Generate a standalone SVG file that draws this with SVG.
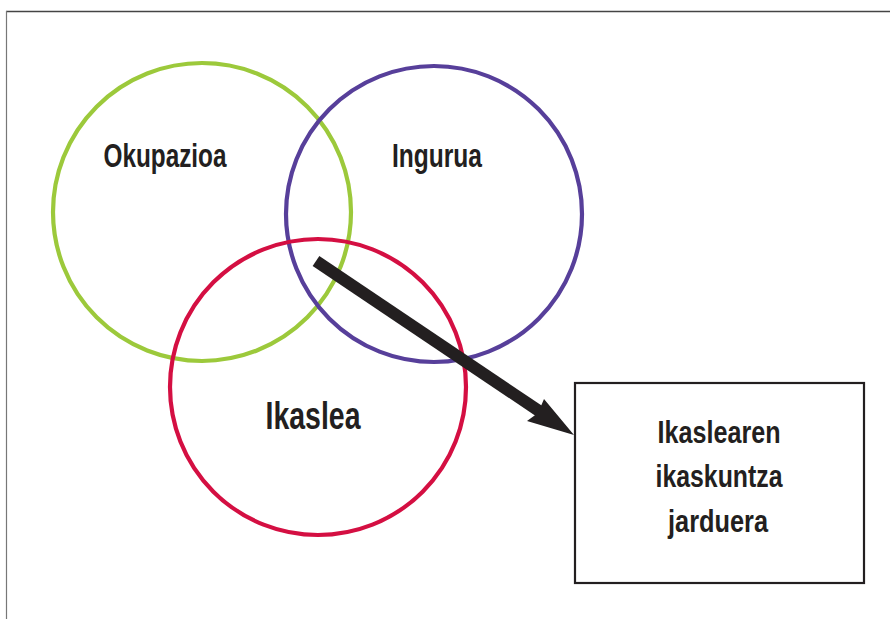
<svg xmlns="http://www.w3.org/2000/svg" width="890" height="619" viewBox="0 0 890 619">
<style>
.lbl{font-family:"Liberation Sans",Arial,sans-serif;font-weight:bold;fill:#231f20;text-anchor:middle}
.c{fill:none;stroke-width:4.2}
</style>
<rect width="890" height="619" fill="#fff"/>
<g id="frame" fill="none" stroke="#444">
<line x1="6" y1="11.5" x2="890" y2="11.5" stroke-width="1.5"/>
<line x1="6.5" y1="11" x2="6.5" y2="619" stroke-width="1.2" stroke="#777"/>
</g>
<g id="okupazioa">
<circle class="c" cx="202" cy="212" r="149" stroke="#9cc93b"/>
<text class="lbl" x="165" y="167" font-size="33" textLength="123" lengthAdjust="spacingAndGlyphs">Okupazioa</text>
</g>
<g id="ingurua">
<circle class="c" cx="434" cy="214" r="148" stroke="#573f9a"/>
<text class="lbl" x="437" y="167" font-size="33" textLength="90" lengthAdjust="spacingAndGlyphs">Ingurua</text>
</g>
<g id="ikaslea">
<circle class="c" cx="318" cy="387" r="148" stroke="#d40f42"/>
<text class="lbl" x="313" y="429" font-size="38" textLength="95" lengthAdjust="spacingAndGlyphs">Ikaslea</text>
</g>
<g id="jarduera">
<rect x="575" y="383" width="289" height="200" fill="none" stroke="#231f20" stroke-width="2.2"/>
<text class="lbl" x="719" y="443" font-size="32" textLength="123" lengthAdjust="spacingAndGlyphs">Ikaslearen</text>
<text class="lbl" x="719" y="487" font-size="32" textLength="127" lengthAdjust="spacingAndGlyphs">ikaskuntza</text>
<text class="lbl" x="718" y="532" font-size="32" textLength="100" lengthAdjust="spacingAndGlyphs">jarduera</text>
</g>
<g id="connectors">
<line x1="316" y1="261" x2="545" y2="415" stroke="#231f20" stroke-width="12"/>
<polygon points="574,435 527,421 538,413 544,399" fill="#231f20"/>
</g>
</svg>
